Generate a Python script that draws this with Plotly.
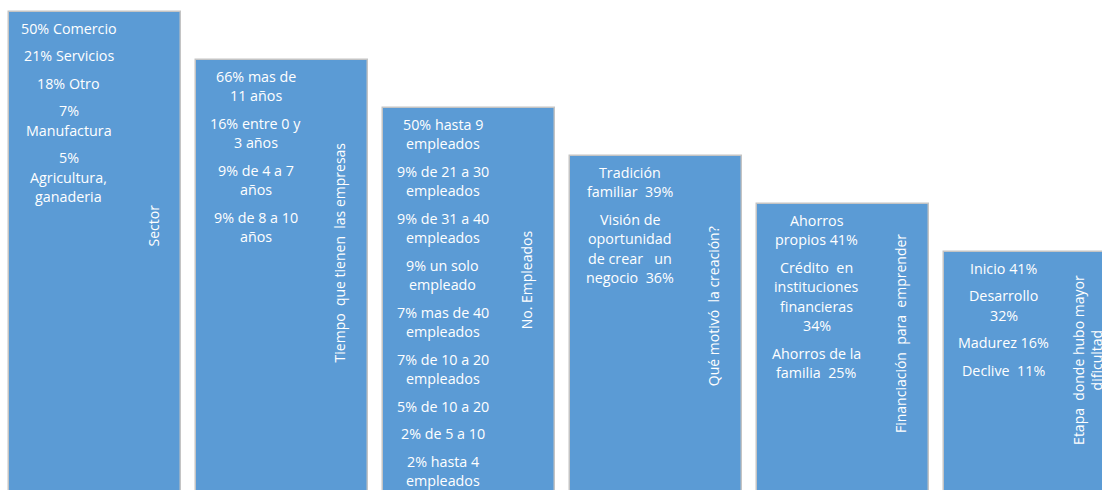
import plotly.graph_objects as go

# ---- data ----
titles = [
    "Sector",
    "Tiempo  que tienen  las empresas",
    "No. Empleados",
    "Qué motivó  la creación?",
    "Financiación  para  emprender",
    "Etapa  donde hubo mayor<br>dificultad",
]
levels = [10, 9, 8, 7, 6, 5]

sector_items = [["50% Comercio"], ["21% Servicios"], ["18% Otro"],
                ["7%", "Manufactura"], ["5%", "Agricultura,", "ganaderia"]]
tiempo_items = [["66% mas de", "11 años"], ["16% entre 0 y", "3 años"],
                ["9% de 4 a 7", "años"], ["9% de 8 a 10", "años"]]
empleados_items = [["50% hasta 9", "empleados"], ["9% de 21 a 30", "empleados"],
                   ["9% de 31 a 40", "empleados"], ["9% un solo", "empleado"],
                   ["7% mas de 40", "empleados"], ["7% de 10 a 20", "empleados"],
                   ["5% de 10 a 20"], ["2% de 5 a 10"], ["2% hasta 4", "empleados"]]
motivo_items = [["Tradición", "familiar  39%"],
                ["Visión de", "oportunidad", "de crear   un", "negocio  36%"]]
financ_items = [["Ahorros", "propios 41%"],
                ["Crédito  en", "instituciones", "financieras", "34%"],
                ["Ahorros de la", "familia  25%"]]
etapa_items = [["Inicio 41%"], ["Desarrollo", "32%"], ["Madurez 16%"], ["Declive  11%"]]

box_items = [sector_items, tiempo_items, empleados_items, motivo_items, financ_items, etapa_items]

# ---- figure ----
W, H = 1102, 490
PX_PER_UNIT = 48.0
PITCH = 187.0
x0 = 95.0
xs = list(range(len(levels)))
xmin = -x0 / PITCH
xmax = (W - x0) / PITCH
ytop = (H + 2) / PX_PER_UNIT
ybot = ytop - H / PX_PER_UNIT

BLUE = "#5B9BD5"
FONT = "Open Sans"
fs = 14.3

fig = go.Figure()
fig.add_trace(go.Bar(
    x=xs, y=[lv + 1 for lv in levels], base=-1,
    width=172 / PITCH,
    marker=dict(color=BLUE, line=dict(color="#C4C4C4", width=1.5)),
    hoverinfo="skip", showlegend=False,
))

annotations = []
text_dx = -26.5 / PITCH
label_dx = 57.5 / PITCH
for i, (items, lv) in enumerate(zip(box_items, levels)):
    line = 0
    for k, item in enumerate(items):
        for t in item:
            y = lv - (16 + 19.5 * line + 8 * k) / PX_PER_UNIT
            annotations.append(dict(
                x=xs[i] + text_dx, y=y, text=t, showarrow=False,
                xanchor="center", yanchor="middle",
                font=dict(family=FONT, size=fs, color="white"),
            ))
            line += 1
    annotations.append(dict(
        x=xs[i] + label_dx, y=0.56 * lv - 0.1 + ybot, text=titles[i], showarrow=False,
        textangle=-90, xanchor="center", yanchor="middle", align="center",
        font=dict(family=FONT, size=fs - 0.3, color="white"),
    ))

fig.update_layout(
    width=W, height=H,
    margin=dict(l=0, r=0, t=0, b=0),
    paper_bgcolor="white", plot_bgcolor="white",
    xaxis=dict(range=[xmin, xmax], visible=False, fixedrange=True),
    yaxis=dict(range=[ybot, ytop], visible=False, fixedrange=True),
    annotations=annotations,
    bargap=0,
)
fig.write_html("out.html", config={"displayModeBar": False},
               post_script="document.body.style.margin='0px';document.body.style.overflow='hidden';")
